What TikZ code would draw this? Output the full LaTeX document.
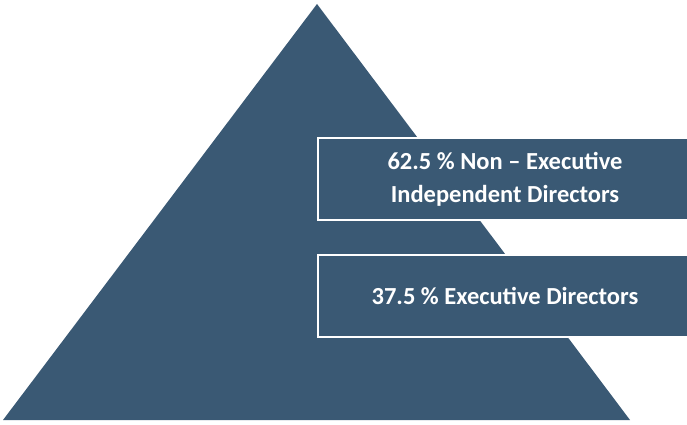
\documentclass[tikz,border=0pt]{standalone}
\usepackage{fontspec}
\setmainfont{Carlito}
\definecolor{slate}{RGB}{58,89,116}
\begin{document}
\begin{tikzpicture}[x=1pt,y=1pt,
  label box/.style={draw=white, line width=2pt, fill=slate, text=white, font=\bfseries\fontsize{24.5}{33}\selectfont, align=center, inner sep=0pt}]
\useasboundingbox (0,0) rectangle (687,424);
\fill[slate] (3,4) coordinate (bl) -- (317,420) coordinate (apex) -- (630,4) coordinate (br) -- cycle;
\node[label box, minimum width=374pt, minimum height=82pt, anchor=north west] (top) at (317,287) {62.5 \% Non – Executive\\Independent Directors};
\node[label box, minimum width=374pt, minimum height=82pt, anchor=north west] (bot) at (317,170) {37.5 \% Executive Directors};
\end{tikzpicture}
\end{document}
